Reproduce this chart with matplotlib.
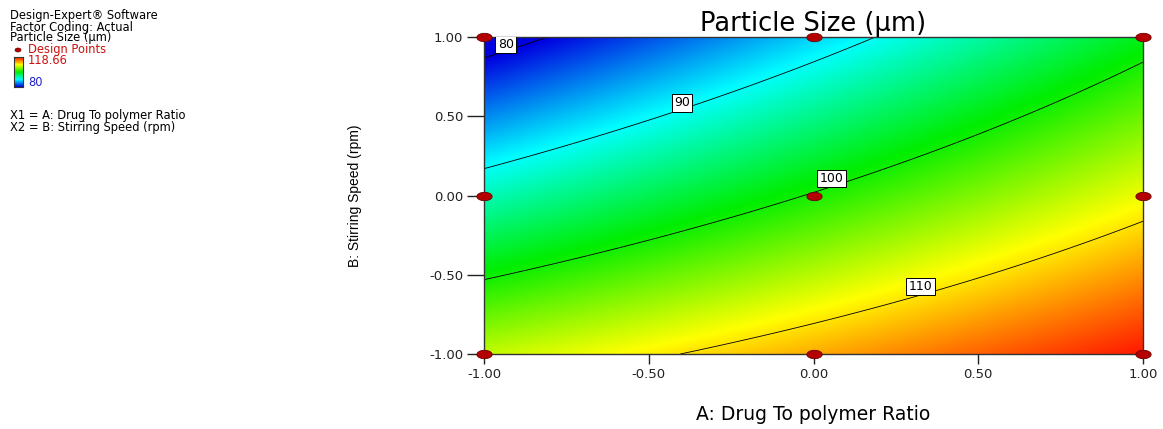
import numpy as np
import matplotlib
matplotlib.use("Agg")
import matplotlib.pyplot as plt
from matplotlib.colors import LinearSegmentedColormap
from matplotlib.path import Path
from matplotlib.patches import Ellipse

plt.rcParams['font.family'] = ['DejaVu Sans']

# Coded factor levels of the 3x3 design
factor_a_levels = [-1.0, 0.0, 1.0]   # A: Drug To polymer Ratio
factor_b_levels = [-1.0, 0.0, 1.0]   # B: Stirring Speed (rpm)

# Predicted particle size (µm) at the design points, rows follow factor B levels
size_b_low = [106.7, 112.3, 118.3]
size_b_mid = [92.4, 100.24, 108.4]
size_b_high = [78.1, 88.1, 98.4]

contour_levels = [80, 90, 100, 110]
response_low = 80
response_high = 118.66
axis_ticks = [-1.0, -0.5, 0.0, 0.5, 1.0]

# Fit full quadratic model: b0 + a*A + b*B + c*AB + d*A^2 + e*B^2
A, B = np.meshgrid(factor_a_levels, factor_b_levels)
Y = np.array([size_b_low, size_b_mid, size_b_high])
a_flat, b_flat, y_flat = A.ravel(), B.ravel(), Y.ravel()
design = np.column_stack([np.ones_like(a_flat), a_flat, b_flat,
                          a_flat * b_flat, a_flat ** 2, b_flat ** 2])
coef, *_ = np.linalg.lstsq(design, y_flat, rcond=None)


def model(a, b):
    return (coef[0] + coef[1] * a + coef[2] * b + coef[3] * a * b
            + coef[4] * a ** 2 + coef[5] * b ** 2)


ga = np.linspace(-1, 1, 400)
gb = np.linspace(-1, 1, 400)
GA, GB = np.meshgrid(ga, gb)
GZ = model(GA, GB)

cmap = LinearSegmentedColormap.from_list(
    "de_rainbow", ["#0000e0", "#00ffff", "#00ee00", "#ffff00", "#ff1000"])

W, H = 1163, 429
fig = plt.figure(figsize=(W / 100, H / 100), dpi=100)
ax = fig.add_axes([484 / W, 1 - 354 / H, 659 / W, 317 / H])

ax.imshow(GZ, origin="lower", extent=[-1, 1, -1, 1], aspect="auto",
          cmap=cmap, vmin=response_low, vmax=response_high,
          interpolation="bilinear")
cs = ax.contour(GA, GB, GZ, levels=contour_levels, colors="black",
                linewidths=0.6)
label_spots = [(-0.934, 0.954), (-0.40, 0.585), (0.055, 0.106),
               (0.325, -0.575)]
labels = ax.clabel(cs, fmt="%d", fontsize=9, inline=False,
                   manual=label_spots)
for t in labels:
    val = float(t.get_text())
    spot = label_spots[contour_levels.index(int(val))]
    t.set_rotation(0)
    t.set_position(spot)
    t.set_zorder(6)
    t.set_bbox(dict(facecolor="white", edgecolor="black", linewidth=0.7,
                    boxstyle="square,pad=0.18"))

# Design points drawn as flat ellipses
theta = np.linspace(0, 2 * np.pi, 60)
ellipse_marker = Path(np.column_stack([np.cos(theta), 0.55 * np.sin(theta)]),
                      closed=True)
ax.plot(A.ravel(), B.ravel(), linestyle="none", marker=ellipse_marker,
        markersize=11, markerfacecolor="#b40000", markeredgecolor="#6a0000",
        markeredgewidth=0.6, clip_on=False, zorder=7)

ax.set_xlim(-1, 1)
ax.set_ylim(-1, 1)
ax.set_xticks(axis_ticks)
ax.set_yticks(axis_ticks)
ax.set_xticklabels([f"{v:.2f}" for v in axis_ticks])
ax.set_yticklabels([f"{v:.2f}" for v in axis_ticks])
ax.tick_params(axis="x", direction="out", length=7, width=1, pad=3,
               labelsize=9.5, colors="#222222")
ax.tick_params(axis="y", direction="out", length=12, width=1, pad=3,
               labelsize=9.5, colors="#222222")
for sp in ax.spines.values():
    sp.set_linewidth(1.0)
    sp.set_color("#333333")

ax.set_title("Particle Size (µm)", fontsize=18.5, pad=3)
ax.set_xlabel("A: Drug To polymer Ratio", fontsize=13.5)
ax.xaxis.set_label_coords(0.5, (354 - 414) / 317)
ax.xaxis.label.set_va("center")
ax.set_ylabel("B: Stirring Speed (rpm)", fontsize=10,
              family=["Liberation Sans"])
ax.yaxis.set_label_coords((355 - 484) / 659, 0.5)
ax.yaxis.label.set_va("center")


# Side legend block
def side_text(x, y, s, color="black"):
    fig.text(x / W, 1 - y / H, s, fontsize=8.3, va="center", color=color)


side_text(10, 16, "Design-Expert® Software")
side_text(10, 27, "Factor Coding: Actual")
side_text(10, 38, "Particle Size (µm)")
side_text(28, 50, "Design Points", "#cc1111")
side_text(28, 61, "118.66", "#cc1111")
side_text(28, 83, "80", "#2222cc")
side_text(10, 116, "X1 = A: Drug To polymer Ratio")
side_text(10, 127, "X2 = B: Stirring Speed (rpm)")
fig.patches.append(Ellipse(
    (18 / W, 1 - 50 / H), 6 / W, 4 / H,
    transform=fig.transFigure, facecolor="#b40000", edgecolor="#6a0000",
    linewidth=0.5, figure=fig))
cax = fig.add_axes([14 / W, 1 - 87 / H, 9 / W, 30 / H])
cax.imshow(np.linspace(0, 1, 100)[:, None], origin="lower", aspect="auto",
           cmap=cmap, extent=[0, 1, 0, 1])
cax.set_xticks([])
cax.set_yticks([])
for sp in cax.spines.values():
    sp.set_linewidth(0.8)
    sp.set_color("#333333")

fig.savefig("out.png", dpi=100)
